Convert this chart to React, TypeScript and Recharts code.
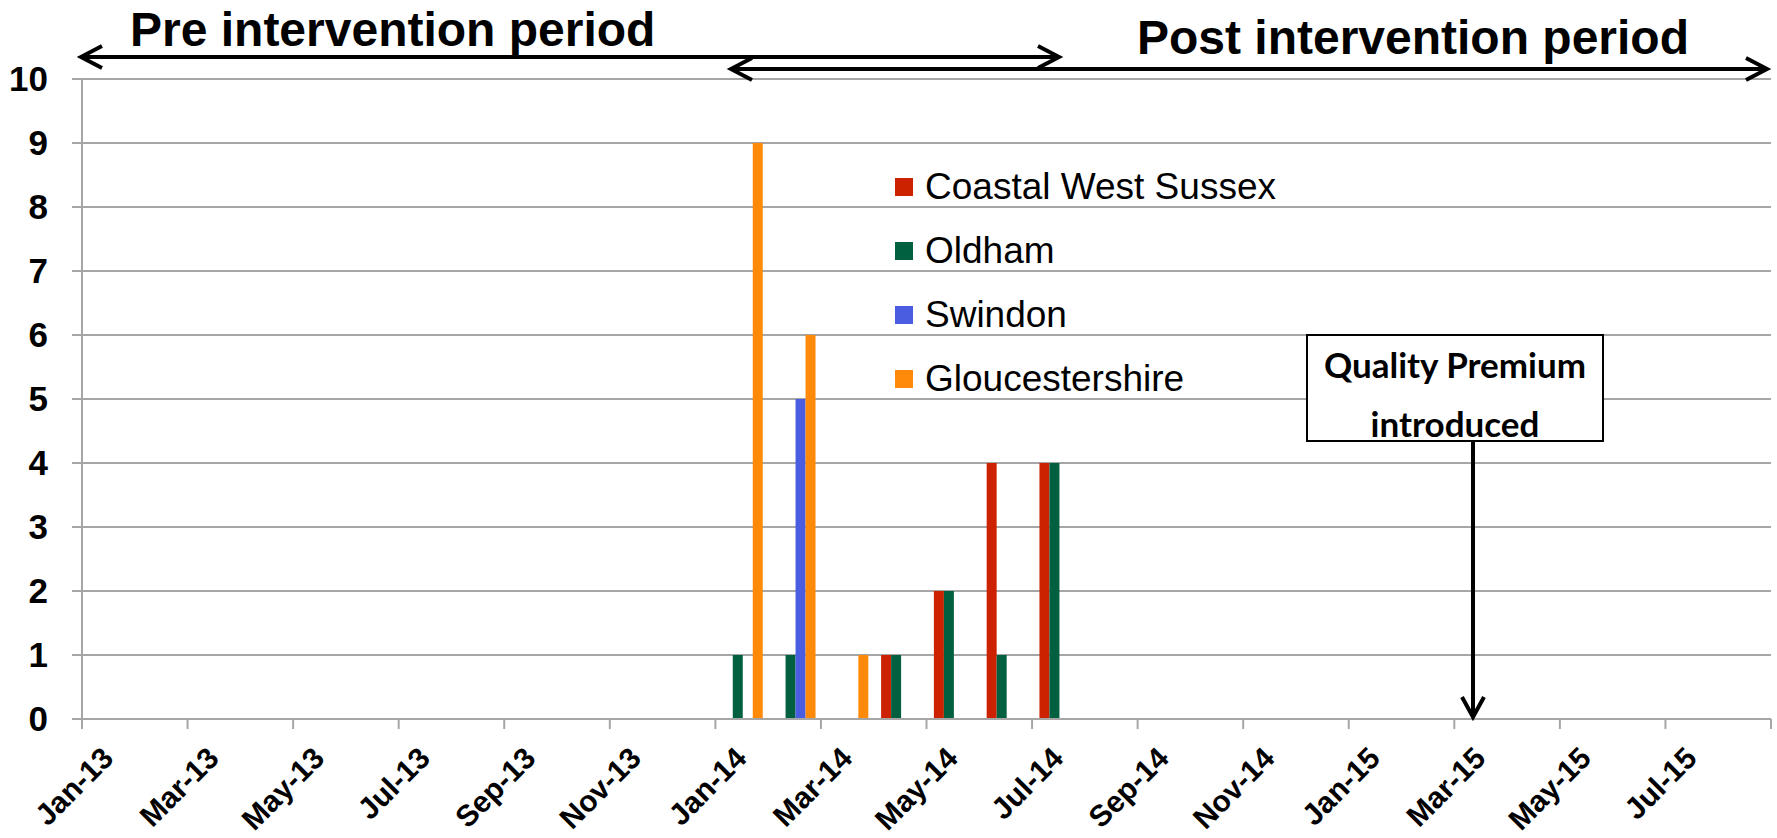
import React from "react";
import { BarChart, Bar, XAxis, YAxis, CartesianGrid } from "recharts";

// monthly counts, Jan-13 .. Aug-15
const months = [
  "Jan-13", "Feb-13", "Mar-13", "Apr-13", "May-13", "Jun-13", "Jul-13", "Aug-13", "Sep-13", "Oct-13", "Nov-13", "Dec-13",
  "Jan-14", "Feb-14", "Mar-14", "Apr-14", "May-14", "Jun-14", "Jul-14", "Aug-14", "Sep-14", "Oct-14", "Nov-14", "Dec-14",
  "Jan-15", "Feb-15", "Mar-15", "Apr-15", "May-15", "Jun-15", "Jul-15", "Aug-15",
];
const coastalWestSussex = [0, 0, 0, 0, 0, 0, 0, 0, 0, 0, 0, 0, 0, 0, 0, 1, 2, 4, 4, 0, 0, 0, 0, 0, 0, 0, 0, 0, 0, 0, 0, 0];
const oldham = [0, 0, 0, 0, 0, 0, 0, 0, 0, 0, 0, 0, 1, 1, 0, 1, 2, 1, 4, 0, 0, 0, 0, 0, 0, 0, 0, 0, 0, 0, 0, 0];
const swindon = [0, 0, 0, 0, 0, 0, 0, 0, 0, 0, 0, 0, 0, 5, 0, 0, 0, 0, 0, 0, 0, 0, 0, 0, 0, 0, 0, 0, 0, 0, 0, 0];
const gloucestershire = [0, 0, 0, 0, 0, 0, 0, 0, 0, 0, 0, 0, 9, 6, 1, 0, 0, 0, 0, 0, 0, 0, 0, 0, 0, 0, 0, 0, 0, 0, 0, 0];

const yTicks = [0, 1, 2, 3, 4, 5, 6, 7, 8, 9, 10];
const xTicks = [0, 2, 4, 6, 8, 10, 12, 14, 16, 18, 20, 22, 24, 26, 28, 30, 32];

const series = [
  { key: "cws", name: "Coastal West Sussex", color: "#CC2200" },
  { key: "oldham", name: "Oldham", color: "#006040" },
  { key: "swindon", name: "Swindon", color: "#4A5CDF" },
  { key: "glos", name: "Gloucestershire", color: "#FF8A0A" },
];

const data = months.map((m, i) => ({
  month: m,
  idx: i + 0.5,
  cws: coastalWestSussex[i],
  oldham: oldham[i],
  swindon: swindon[i],
  glos: gloucestershire[i],
}));

const W = 1777;
const H = 838;
const FONT = "'Liberation Sans', Arial, sans-serif";
const GRID = "#A6A6A6";

// x labels hang off the month boundary ticks, rotated like excel does it
const XTick = (props: any) => {
  const { x, y, payload } = props;
  const label = months[payload.value];
  if (!label) return null;
  const ax = x + 33;
  const ay = y + 31;
  return (
    <text
      x={ax}
      y={ay}
      transform={`rotate(-45, ${ax}, ${ay})`}
      textAnchor="end"
      fontFamily={FONT}
      fontSize={30}
      fontWeight="bold"
      fill="#000"
    >
      {label}
    </text>
  );
};

const chevron = (tipX: number, y: number, dir: number) =>
  `M ${tipX + dir * 21} ${y - 11} L ${tipX} ${y} L ${tipX + dir * 21} ${y + 11}`;

export default function App() {
  return (
    <div style={{ position: "absolute", left: 0, top: 0, width: W, height: H, background: "#fff" }}>
      <BarChart
        width={W}
        height={H}
        data={data}
        margin={{ top: 79, right: 6, left: 0, bottom: 0 }}
        barCategoryGap="14%"
        barGap={0}
      >
        <CartesianGrid vertical={false} stroke={GRID} strokeWidth={2} xAxisId="lbl" />
        <XAxis xAxisId="cat" dataKey="month" hide height={0} />
        <XAxis
          xAxisId="lbl"
          dataKey="idx"
          type="number"
          domain={[0, 32]}
          allowDataOverflow
          ticks={xTicks}
          interval={0}
          height={119}
          axisLine={{ stroke: GRID, strokeWidth: 2 }}
          tickLine={{ stroke: GRID, strokeWidth: 2 }}
          tickSize={10}
          tickMargin={0}
          tick={<XTick />}
        />
        <YAxis
          domain={[0, 10]}
          ticks={yTicks}
          interval={0}
          width={82}
          axisLine={{ stroke: GRID, strokeWidth: 2 }}
          tickLine={{ stroke: GRID, strokeWidth: 2 }}
          tickSize={10}
          tickMargin={24}
          tick={{ fill: "#000", fontSize: 35, fontWeight: "bold", fontFamily: FONT }}
        />
        {series.map((s) => (
          <Bar key={s.key} xAxisId="cat" dataKey={s.key} name={s.name} fill={s.color} isAnimationActive={false} />
        ))}
      </BarChart>

      {/* legend */}
      <div style={{ position: "absolute", left: 895, top: 155, fontFamily: FONT, fontSize: 37, color: "#000" }}>
        {series.map((s) => (
          <div key={s.key} style={{ display: "flex", alignItems: "center", height: 64, whiteSpace: "nowrap" }}>
            <span style={{ display: "inline-block", width: 18, height: 18, background: s.color, marginRight: 12 }} />
            <span>{s.name}</span>
          </div>
        ))}
      </div>

      {/* annotations */}
      <svg width={W} height={H} style={{ position: "absolute", left: 0, top: 0, pointerEvents: "none" }}>
        <text x={130} y={46} fontFamily={FONT} fontSize={48} fontWeight="bold" fill="#000">
          Pre intervention period
        </text>
        <text x={1689} y={54} textAnchor="end" fontFamily={FONT} fontSize={48} fontWeight="bold" fill="#000">
          Post intervention period
        </text>
        <g stroke="#000" strokeWidth={4} fill="none">
          <line x1={81} y1={57} x2={1059} y2={57} />
          <path d={chevron(81, 57, 1)} />
          <path d={chevron(1059, 57, -1)} />
          <line x1={731} y1={69} x2={1767} y2={69} />
          <path d={chevron(731, 69, 1)} />
          <path d={chevron(1767, 69, -1)} />
          <line x1={1473} y1={441} x2={1473} y2={717} />
          <path d={`M 1462 697 L 1473 717 L 1484 697`} />
        </g>
        <rect x={1307} y={335} width={296} height={106} fill="#fff" stroke="#000" strokeWidth={2} />
        <text x={1455} y={378} textAnchor="middle" fontFamily="Lato, 'Open Sans', sans-serif" fontSize={35} fontWeight="bold" fill="#000">
          Quality Premium
        </text>
        <text x={1455} y={437} textAnchor="middle" fontFamily="Lato, 'Open Sans', sans-serif" fontSize={35} fontWeight="bold" fill="#000">
          introduced
        </text>
      </svg>
    </div>
  );
}
